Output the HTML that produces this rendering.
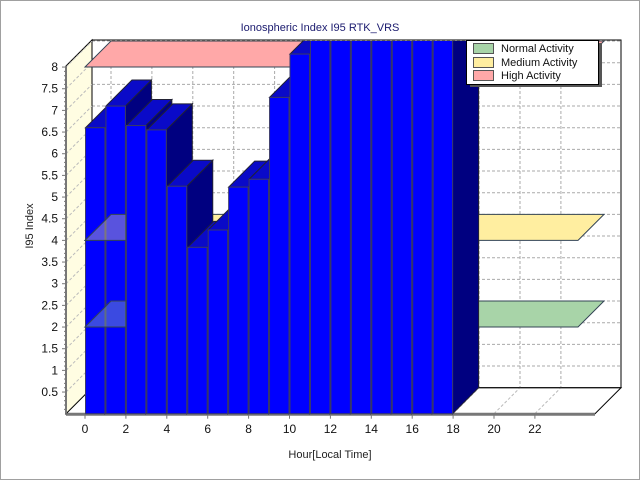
<!DOCTYPE html>
<html><head><meta charset="utf-8"><style>
html,body{margin:0;padding:0;background:#fff}
svg{display:block;font-family:"Liberation Sans",Tahoma,sans-serif}
</style></head><body>
<svg id="chart" width="640" height="480" viewBox="0 0 640 480">
<defs><clipPath id="plotclip"><rect x="0" y="41" width="640" height="440"/></clipPath></defs>
<rect x="0.5" y="0.5" width="639" height="479" fill="#fff" stroke="#a0a0a0"/>
<text x="320" y="31" text-anchor="middle" font-size="11" fill="#1a1a6e">Ionospheric Index I95 RTK_VRS</text>
<g id="plot"></g>
<text transform="translate(33,226) rotate(-90)" text-anchor="middle" font-size="11" fill="#222">I95 Index</text>
<text x="330" y="458" text-anchor="middle" font-size="11" fill="#222">Hour[Local Time]</text>
<g>
<rect x="470" y="43" width="132" height="44" fill="#555"/>
<rect x="466.5" y="40.5" width="132" height="44" fill="#fff" stroke="#000"/>
<rect x="473.5" y="43.5" width="20" height="10" fill="#a8d4a8" stroke="#555"/>
<text x="501" y="52" font-size="11" fill="#111">Normal Activity</text>
<rect x="473.5" y="57.5" width="20" height="10" fill="#ffeea0" stroke="#555"/>
<text x="501" y="66" font-size="11" fill="#111">Medium Activity</text>
<rect x="473.5" y="70.5" width="20" height="10" fill="#ffa8a8" stroke="#555"/>
<text x="501" y="79" font-size="11" fill="#111">High Activity</text>
</g>
</svg>
<script>
const hours = [0,1,2,3,4,5,6,7,8,9,10,11,12,13,14,15,16,17];
const indexValues = [6.6,7.1,6.65,6.55,5.25,3.84,4.24,5.23,5.41,7.3,8.3,9.5,9.5,9.5,9.5,9.5,9.5,9.5];
const yTicks = [0.5,1,1.5,2,2.5,3,3.5,4,4.5,5,5.5,6,6.5,7,7.5,8];
const xTicks = [0,2,4,6,8,10,12,14,16,18,20,22];
const thresholdValues = [2,4,8];
const thresholdNames = ['normal','medium','high'];
const thresholdColors = ['#a8d4a8','#ffeea0','#ffa8a8'];

const NS='http://www.w3.org/2000/svg';
const plot=document.getElementById('plot');
const DX=26, DY=-26, Y0=413.7, KY=43.33, X0=85, KX=20.45;
const AXL=66, AXR=595;
function y(v){return Y0-v*KY;}
function x(h){return X0+h*KX;}
function mk(tag,attrs,parent){const e=document.createElementNS(NS,tag);for(const k in attrs)e.setAttribute(k,attrs[k]);(parent||plot).appendChild(e);return e;}
function pts(a){return a.map(p=>p.join(',')).join(' ');}

// back wall
let e=mk('rect',{x:AXL+DX,y:40,width:AXR+DX-(AXL+DX),height:y(0)+DY-40,fill:'#fff',stroke:'#000'});


// back wall grid
yTicks.forEach(v=>{
  const g=mk('line',{x1:AXL+DX,x2:AXR+DX,y1:y(v)+DY,y2:y(v)+DY,stroke:'#aaa','stroke-dasharray':'3,2'});
  
  
  const d=mk('line',{x1:AXL,y1:y(v),x2:AXL+DX,y2:y(v)+DY,stroke:'#bbb','stroke-dasharray':'3,2'});
  
  
});
xTicks.forEach(h=>{
  const g=mk('line',{x1:x(h)+DX,x2:x(h)+DX,y1:41,y2:y(0)+DY,stroke:'#aaa','stroke-dasharray':'3,2'});
  
  
  const f=mk('line',{x1:x(h),y1:y(0),x2:x(h)+DX,y2:y(0)+DY,stroke:'#bbb','stroke-dasharray':'3,2'});
  
  
});
// floor
e=mk('polygon',{points:pts([[AXL,y(0)],[AXR,y(0)],[AXR+DX,y(0)+DY],[AXL+DX,y(0)+DY]]),fill:'none',stroke:'#000'});


e=mk('line',{x1:AXL,y1:y(0)+0.5,x2:AXR,y2:y(0)+0.5,stroke:'#777','stroke-width':3});


// left wall
e=mk('polygon',{points:pts([[AXL,66],[AXL+DX,40],[AXL+DX,y(0)+DY],[AXL,y(0)]]),fill:'#fffde2',stroke:'#000'});


yTicks.forEach(v=>{
  const d=mk('line',{x1:AXL,y1:y(v),x2:AXL+DX,y2:y(v)+DY,stroke:'#bbb','stroke-dasharray':'3,2'});
  
  
});
e=mk('line',{x1:AXL,y1:66,x2:AXL,y2:y(0),stroke:'#777','stroke-width':2});


// y ticks + labels
for(let i=1;i<=80;i++){
  const v=i*0.1;
  const major=Math.abs(v*2-Math.round(v*2))<1e-6;
  const t=mk('line',{x1:AXL-(major?4:2),x2:AXL,y1:y(v),y2:y(v),stroke:'#777'});
  
  
}
yTicks.forEach(v=>{
  const t=mk('text',{x:58,y:y(v)+4,'text-anchor':'end','font-size':12,fill:'#111'});
  t.textContent=String(v);
  
  
});
xTicks.forEach(h=>{
  const t=mk('line',{x1:x(h),x2:x(h),y1:y(0),y2:y(0)+5,stroke:'#777'});
  
  
  const l=mk('text',{x:x(h),y:433,'text-anchor':'middle','font-size':12,fill:'#111'});
  l.textContent=String(h);
  
  
});
const clipG=mk('g',{'clip-path':'url(#plotclip)'});


// threshold bands
const BX1=x(0), BX2=578;
thresholdValues.forEach((v,i)=>{
  const p=mk('polygon',{points:pts([[BX1,y(v)],[BX2,y(v)],[BX2+DX,y(v)+DY],[BX1+DX,y(v)+DY]]),fill:thresholdColors[i],stroke:'#345'},clipG);
  
  
});
// bars
hours.forEach((h,i)=>{
  const v=indexValues[i];
  const xl=x(h)+0.5, xr=x(h+1)-0.5, yt=y(v), yb=y(0);
  const side=mk('polygon',{points:pts([[xr,yt],[xr+DX,yt+DY],[xr+DX,yb+DY],[xr,yb]]),fill:'#000080',stroke:'#223'},clipG);
  
  
  const top=mk('polygon',{points:pts([[xl,yt],[xr,yt],[xr+DX,yt+DY],[xl+DX,yt+DY]]),fill:'#0a0ac8',stroke:'#223'},clipG);
  
  
  const f=mk('rect',{x:xl,y:yt,width:xr-xl,height:yb-yt,fill:'#0000ff',stroke:'#3a3a6a'},clipG);
  
  
});
// translucent band pieces over first bars
thresholdValues.slice(0,2).forEach((v,i)=>{
  const xa=x(0), xb=x(2);
  const p=mk('polygon',{points:pts([[xa,y(v)],[xb,y(v)],[xb,y(v)+DY],[xa+DX,y(v)+DY]]),fill:thresholdColors[i],'fill-opacity':0.35,stroke:'#345'},clipG);
  
  
});
</script>
</body></html>
